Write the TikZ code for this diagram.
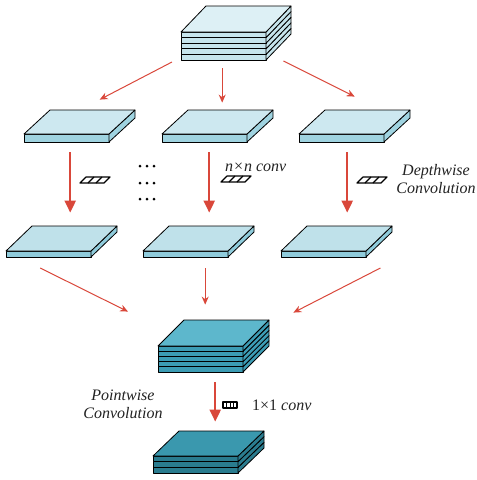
\documentclass[tikz,border=0pt]{standalone}
\usepackage{fontspec}
\setmainfont{Liberation Serif}
\usepackage{xcolor}
\usepackage{tikz}
\usetikzlibrary{arrows.meta}

\definecolor{arrowred}{HTML}{D9473A}
\definecolor{txt}{HTML}{222222}
\definecolor{inTop}{HTML}{DDF0F5}
\definecolor{inSide}{HTML}{C6E4EC}
\definecolor{dwTop}{HTML}{CDE8F0}
\definecolor{dwSide}{HTML}{9FD3E0}
\definecolor{cTop}{HTML}{BFE1EA}
\definecolor{cSide}{HTML}{8FCBDB}
\definecolor{midTop}{HTML}{5DB7CC}
\definecolor{midSide}{HTML}{3C9CB4}
\definecolor{outTop}{HTML}{3A98AE}
\definecolor{outSide}{HTML}{2A7C8F}

\def\tw{85}
% name, x, y (front top), height, layers, dx, dy, top fill, side fill
\newcommand\tensor[9]{%
  \pgfmathsetmacro\lh{#4/#5}
  \foreach \i in {#5,...,1}{
    \pgfmathsetmacro\yy{#3+(\i-1)*\lh}
    \filldraw[face, fill=#9] (#2,\yy) rectangle ++(\tw,\lh);
    \filldraw[face, fill=#9] (#2+\tw,\yy) -- ++(#6,-#7) -- ++(0,\lh) -- ++(-#6,#7) -- cycle;
  }
  \filldraw[face, fill=#8] (#2,#3) -- ++(#6,-#7) -- ++(\tw,0) -- ++(-#6,#7) -- cycle;
  \node[inner sep=0, minimum width={\tw+#6}, minimum height={#4+#7},
        anchor=south west] (#1) at (#2,#3+#4) {};
}
% small 1x3 kernel, lower left corner
\newcommand\kernel[2]{%
  \filldraw[face, line width=1.2pt, fill=white] (#1,#2) -- ++(24,0) -- ++(6,-6) -- ++(-24,0) -- cycle;
  \draw[face, line width=1.2pt] (#1+8,#2) -- ++(6,-6) (#1+16,#2) -- ++(6,-6);
}

\begin{document}
\begin{tikzpicture}[
  x=1pt, y=-1pt,
  face/.style={draw=black, line width=0.8pt, line join=round},
  thinarr/.style={-{Stealth[length=8pt,width=7pt]}, draw=arrowred, line width=1pt},
  thickarr/.style={-{Triangle[length=12pt,width=11pt]}, draw=arrowred, line width=2.4pt},
  lbl/.style={font=\fontsize{16}{18}\selectfont\itshape, text=txt, align=center, inner sep=0}
]
\useasboundingbox (0,0) rectangle (477,480);

% input and the separated channels
\tensor{input}{181}{32}{28}{5}{25}{26}{inTop}{inSide}
\tensor{ch1}{24}{134}{8}{1}{26}{24}{dwTop}{dwSide}
\tensor{ch2}{162}{134}{8}{1}{26}{24}{dwTop}{dwSide}
\tensor{ch3}{299}{134}{8}{1}{26}{24}{dwTop}{dwSide}

% after depthwise convolution
\tensor{fm1}{6}{251}{6}{1}{26}{25}{cTop}{cSide}
\tensor{fm2}{143}{251}{6}{1}{26}{25}{cTop}{cSide}
\tensor{fm3}{281}{251}{6}{1}{26}{25}{cTop}{cSide}

\tensor{stacked}{158}{346}{26}{5}{26}{26}{midTop}{midSide}
\tensor{output}{153}{456}{17}{3}{26}{25}{outTop}{outSide}

\kernel{80}{183}
\kernel{221}{182}
\kernel{357}{183}
\filldraw[face, line width=1.1pt, fill=white] (223,402) rectangle (237,408);
\draw[face] (226.5,402) -- (226.5,408) (230,402) -- (230,408) (233.5,402) -- (233.5,408);

\foreach \r in {166,183,199}
  \foreach \c in {140,147,154}
    \fill (\c,\r) circle[radius=1.5pt];

\node[lbl, anchor=west] (nconv) at (225,167) {\textit{n}×\textit{n} conv};
\node[lbl] (dwlabel) at (436,179) {Depthwise\\Convolution};
\node[lbl] (pwlabel) at (123,404) {Pointwise\\Convolution};
\node[font=\fontsize{16}{18}\selectfont, text=txt, anchor=west, inner sep=0] (oneconv) at (252,405)
  {1×1 \textit{conv}};

\draw[thinarr] ([xshift=-9pt,yshift=-2pt]input.south west) -- ([xshift=20pt,yshift=10pt]ch1.north);
\draw[thinarr] ([xshift=-14pt,yshift=-8pt]input.south) -- ([xshift=4.5pt,yshift=7pt]ch2.north);
\draw[thinarr] ([xshift=-8pt,yshift=-1pt]input.south east) -- ([yshift=13pt]ch3.north);

\draw[thickarr] ([xshift=-9.5pt,yshift=-10pt]ch1.south) -- ([xshift=8.5pt,yshift=13pt]fm1.north);
\draw[thickarr] ([xshift=-8.5pt,yshift=-10pt]ch2.south) -- ([xshift=10.5pt,yshift=13pt]fm2.north);
\draw[thickarr] ([xshift=-7.5pt,yshift=-10pt]ch3.south) -- ([xshift=10.5pt,yshift=13pt]fm3.north);

\draw[thinarr] ([xshift=-21.5pt,yshift=-11pt]fm1.south) -- ([xshift=-30pt,yshift=8pt]stacked.north west);
\draw[thinarr] ([xshift=6.5pt,yshift=-11pt]fm2.south) -- ([xshift=-8.5pt,yshift=15pt]stacked.north);
\draw[thinarr] ([xshift=-12pt,yshift=-11pt]fm3.south east) -- ([xshift=24pt,yshift=7pt]stacked.north east);

\draw[thickarr] ([xshift=1.5pt,yshift=-10pt]stacked.south) -- ([xshift=6.5pt,yshift=9pt]output.north);
\end{tikzpicture}
\end{document}
